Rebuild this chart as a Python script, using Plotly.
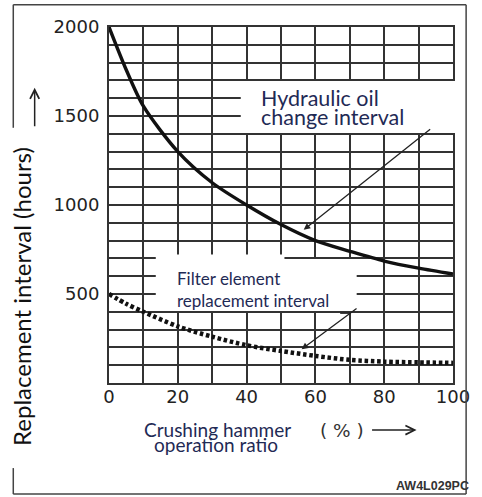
import plotly.graph_objects as go

# Operation ratio of the crushing hammer (%)
ratio = [0, 5, 10, 20, 30, 40, 50, 60, 70, 80, 90, 100]
# Hydraulic oil change interval (hours)
oil_hours = [2000, 1760, 1555, 1300, 1125, 1000, 890, 800, 740, 685, 645, 612]
# Filter element replacement interval (hours)
filter_hours = [500, 445, 400, 318, 260, 212, 180, 152, 130, 120, 116, 113]

x_ticks = [0, 20, 40, 60, 80, 100]
y_ticks = [500, 1000, 1500, 2000]

W, H = 482, 497
L, R, T, B = 108.5, 19.5, 27.3, 114


def px(x):
    return (x - L) / (W - L - R)


def py(y):
    return (H - B - y) / (H - B - T)


INK = "#222222"
NAVY = "#1f2a55"
GRID = "#333333"

fig = go.Figure()
fig.add_trace(go.Scatter(
    x=ratio, y=oil_hours, mode="lines",
    line=dict(color="#111111", width=3.4, shape="spline", smoothing=0.8),
    hoverinfo="skip", showlegend=False))
fig.add_trace(go.Scatter(
    x=ratio, y=filter_hours, mode="lines",
    line=dict(color="#111111", width=4.5, shape="spline", smoothing=0.8,
              dash="3.5px,2.7px"),
    hoverinfo="skip", showlegend=False))

axis_common = dict(
    showline=True, linecolor=GRID, linewidth=2, mirror=True,
    showgrid=True, gridcolor=GRID, gridwidth=1.5,
    zeroline=False,
    tickfont=dict(family="DejaVu Sans", size=18, color=INK),
)
fig.update_xaxes(range=[0, 100], tickvals=x_ticks, ticks="", ticklabelstandoff=-4,
                 minor=dict(dtick=10, tick0=0, showgrid=True,
                            gridcolor=GRID, gridwidth=1.5),
                 **axis_common)
fig.update_yaxes(range=[0, 2000], tickvals=y_ticks, ticks="outside", ticklen=4,
                 tickcolor="rgba(0,0,0,0)",
                 minor=dict(dtick=100, tick0=0, showgrid=True,
                            gridcolor=GRID, gridwidth=1.5),
                 **axis_common)

shapes = [
    # white label panels laid over the grid
    dict(type="rect", xref="paper", yref="y", x0=0.383, x1=1.02, y0=1404, y1=1697,
         fillcolor="white", line=dict(width=0), layer="above"),
    dict(type="rect", xref="x", yref="y", x0=13.6, x1=51, y0=405, y1=722,
         fillcolor="white", line=dict(width=0), layer="above"),
    dict(type="rect", xref="x", yref="y", x0=50.5, x1=72, y0=405, y1=697,
         fillcolor="white", line=dict(width=0), layer="above"),
    # short tick where the filter leader leaves the panel
    dict(type="line", xref="x", yref="y", x0=67.2, x1=70.2, y0=392, y1=392,
         line=dict(color=INK, width=1.3)),
]

# outer drawing frame
frame = [
    (10, 5, 476, 5), (10, 5, 10, 128), (10, 468, 10, 494),
    (476, 5, 476, 494), (10, 494, 476, 494),
]
for xa, ya, xb, yb in frame:
    shapes.append(dict(type="line", xref="paper", yref="paper",
                       x0=px(xa), y0=py(ya), x1=px(xb), y1=py(yb),
                       line=dict(color="#444444", width=1.5)))

annotations = [
    # leader arrows
    dict(x=56.6, y=861, ax=93.8, ay=1432, axref="x", ayref="y", xref="x", yref="y",
         text="", showarrow=True, arrowhead=2, arrowsize=1, arrowwidth=1.3,
         arrowcolor=INK),
    dict(x=56, y=190, ax=72.4, ay=425, axref="x", ayref="y", xref="x", yref="y",
         text="", showarrow=True, arrowhead=2, arrowsize=1, arrowwidth=1.3,
         arrowcolor=INK),
    # curve labels
    dict(x=43.6, y=1600, xref="x", yref="y", text="Hydraulic oil",
         xanchor="left", yanchor="middle", showarrow=False,
         font=dict(family="Lato", size=21.5, color=NAVY)),
    dict(x=43.6, y=1495, xref="x", yref="y", text="change interval",
         xanchor="left", yanchor="middle", showarrow=False,
         font=dict(family="Lato", size=21.5, color=NAVY)),
    dict(x=19.1, y=587, xref="x", yref="y", text="Filter element",
         xanchor="left", yanchor="middle", showarrow=False,
         font=dict(family="Lato", size=17, color=NAVY)),
    dict(x=19.1, y=466, xref="x", yref="y", text="replacement interval",
         xanchor="left", yanchor="middle", showarrow=False,
         font=dict(family="Lato", size=17, color=NAVY)),
    # axis titles
    dict(x=px(19), y=py(297), xref="paper", yref="paper",
         text="Replacement interval (hours)", textangle=-90,
         xanchor="center", yanchor="middle", showarrow=False,
         font=dict(family="Lato", size=24, color="#111111")),
    dict(x=px(32), y=py(88), xref="paper", yref="paper", text="",
         showarrow=True, ax=0, ay=40, arrowhead=5, arrowsize=1.2,
         arrowwidth=1.5, arrowcolor=INK),
    dict(x=px(142), y=py(429), xref="paper", yref="paper", text="Crushing hammer",
         xanchor="left", yanchor="middle", showarrow=False,
         font=dict(family="Lato", size=19, color=NAVY)),
    dict(x=px(153), y=py(444), xref="paper", yref="paper", text="operation ratio",
         xanchor="left", yanchor="middle", showarrow=False,
         font=dict(family="Lato", size=19, color=NAVY)),
    dict(x=px(348), y=py(430), xref="paper", yref="paper", text="( % )",
         xanchor="center", yanchor="middle", showarrow=False,
         font=dict(family="DejaVu Sans", size=18.5, color="#333333")),
    dict(x=px(425), y=py(430), xref="paper", yref="paper", text="",
         showarrow=True, ax=-46, ay=0, arrowhead=5, arrowsize=1.2,
         arrowwidth=1.5, arrowcolor=INK),
    dict(x=px(481), y=py(486), xref="paper", yref="paper", text="<b>AW4L029PC</b>",
         xanchor="right", yanchor="middle", showarrow=False,
         font=dict(family="Liberation Sans", size=12.5, color="#333333")),
]

fig.update_layout(
    width=W, height=H, autosize=False,
    margin=dict(l=L, r=R, t=T, b=B, pad=0),
    paper_bgcolor="white", plot_bgcolor="white",
    shapes=shapes, annotations=annotations,
)

fig.write_html("out.html")
